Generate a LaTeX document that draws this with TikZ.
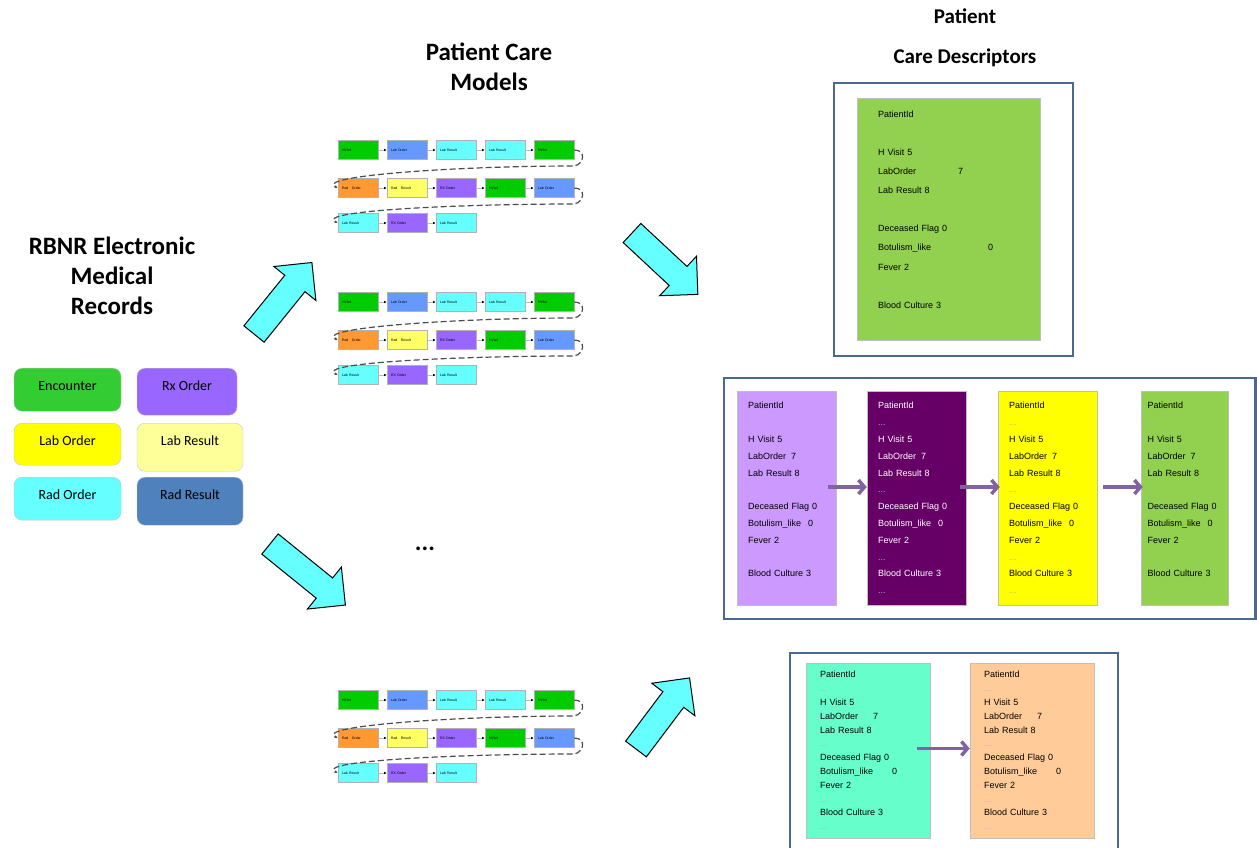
\documentclass[tikz,border=0pt]{standalone}
\usepackage{fontspec}
\setmainfont{Carlito}
\newfontfamily\arialf{Liberation Sans}
\usetikzlibrary{arrows.meta,positioning,calc}

\definecolor{encgreen}{HTML}{33CC33}
\definecolor{rxpurple}{HTML}{9966FF}
\definecolor{laborder}{HTML}{FFFF00}
\definecolor{labresult}{HTML}{FFFF99}
\definecolor{radorder}{HTML}{66FFFF}
\definecolor{radresult}{HTML}{4F81BD}
\definecolor{mgreen}{HTML}{00CC00}
\definecolor{mblue}{HTML}{6699FF}
\definecolor{mcyan}{HTML}{66FFFF}
\definecolor{morange}{HTML}{FF9933}
\definecolor{myellow}{HTML}{FFFF66}
\definecolor{mpurple}{HTML}{9966FF}
\definecolor{dgreen}{HTML}{92D050}
\definecolor{dlav}{HTML}{CC99FF}
\definecolor{dplum}{HTML}{660066}
\definecolor{dyellow}{HTML}{FFFF00}
\definecolor{dteal}{HTML}{66FFCC}
\definecolor{dpeach}{HTML}{FFCC99}
\definecolor{framecol}{HTML}{4B6892}
\definecolor{flowcol}{HTML}{8064A2}
\definecolor{arrowcyan}{HTML}{66FFFF}

\tikzset{
  title/.style={font=\bfseries\fontsize{25}{30}\selectfont, align=center},
  legend/.style={rounded corners=8pt, draw=gray!45, anchor=north,
    font=\fontsize{14}{16}\selectfont, text height=17pt, inner ysep=5pt},
  mbox/.style={draw=gray!60, line width=0.6pt, minimum height=19pt,
    text width=32pt, inner xsep=4pt, inner ysep=0pt, align=left,
    font=\arialf\fontsize{3.5}{4}\selectfont},
  mlink/.style={draw=gray!55, line width=0.6pt, -{Latex[length=2.5pt,width=2.5pt,color=black]}},
  mwrap/.style={draw=black!70, line width=1.2pt, dash pattern=on 6pt off 3pt,
    -{Latex[length=3pt,width=3pt]}},
  bigarrow/.style={fill=arrowcyan, draw=black, line width=1pt, line join=miter},
  desc/.style={draw=gray!50, line width=0.5pt, align=left, inner ysep=0pt,
    font=\arialf\fontsize{9}{#1}\selectfont},
  frame/.style={draw=framecol, line width=2.5pt},
  flow/.style={draw=flowcol, line width=3.5pt, -{Straight Barb[length=6pt,width=14pt]}}
}

\newcommand{\gapDots}{{\color{gray!60}\fontsize{9}{9}\selectfont...}}
\newcommand{\careLines}[2]{PatientId\\\gapDots\\H~Visit~5\\LabOrder\hspace{#1}7\\Lab~Result~8\\\gapDots\\Deceased~Flag~0\\Botulism\_like\hspace{#2}0\\Fever~2\\\gapDots\\Blood~Culture~3\\\gapDots}

% one patient care model: three rows of events
\newcommand{\careModel}[2]{%
  \begin{scope}[shift={(0,#2)}]
    \foreach \cc/\clr/\lbl in {1/mgreen/HVisit,2/mblue/Lab Order,3/mcyan/Lab Result,4/mcyan/Lab Result,5/mgreen/HVisit}
      \node[mbox, fill=\clr] (#1-1-\cc) at ({358+49*(\cc-1)},150) {\lbl};
    \foreach \cc/\clr/\lbl in {1/morange/Rad\quad Order,2/myellow/Rad\quad Result,3/mpurple/RX Order,4/mgreen/HVisit,5/mblue/Lab Order}
      \node[mbox, fill=\clr] (#1-2-\cc) at ({358+49*(\cc-1)},188) {\lbl};
    \foreach \cc/\clr/\lbl in {1/mcyan/Lab Result,2/mpurple/RX Order,3/mcyan/Lab Result}
      \node[mbox, fill=\clr] (#1-3-\cc) at ({358+49*(\cc-1)},223) {\lbl};
    \foreach \pp/\qq in {1/2,2/3,3/4,4/5} {
      \draw[mlink] (#1-1-\pp) -- (#1-1-\qq);
      \draw[mlink] (#1-2-\pp) -- (#1-2-\qq);
    }
    \foreach \pp/\qq in {1/2,2/3}
      \draw[mlink] (#1-3-\pp) -- (#1-3-\qq);
    \draw[mwrap] (#1-1-5.east) .. controls +(12,0) and +(10,-2) .. ++(0,16)
      .. controls +(-120,0) and +(-22,-12) .. (#1-2-1.west);
    \draw[mwrap] (#1-2-5.east) .. controls +(12,0) and +(10,-2) .. ++(0,16)
      .. controls +(-120,0) and +(-22,-12) .. (#1-3-1.west);
  \end{scope}}

% block arrow: tail x, tail y, angle, length
\newcommand{\bigArrow}[4]{%
  \begin{scope}[shift={(#1,#2)}, rotate=#3]
    \draw[bigarrow] (0,-13) -- ({#4-27},-13) -- ({#4-27},-27) -- (#4,0)
      -- ({#4-27},27) -- ({#4-27},13) -- (0,13) -- cycle;
  \end{scope}}

\begin{document}
\begin{tikzpicture}[x=1pt,y=-1pt]
\useasboundingbox (0,0) rectangle (1257,847);
\clip (0,0) rectangle (1257,847);

% titles
\node[title] (emr) at (112,276) {RBNR Electronic\\Medical\\Records};
\node[title] (pcm) at (489,67) {Patient Care\\Models};
\node[title, font=\bfseries\fontsize{21}{40}\selectfont] (pcd) at (965,38) {Patient\\Care Descriptors};

% record types
\node[legend, fill=encgreen, minimum width=107pt, text depth=16pt] (enc) at (67.5,368) {Encounter};
\node[legend, fill=rxpurple, minimum width=100pt, text depth=20pt] (rx) at (187,368) {Rx Order};
\node[legend, fill=laborder, minimum width=107pt, text depth=15pt] (lo) at (67.5,423) {Lab Order};
\node[legend, fill=labresult, minimum width=106pt, text depth=21pt] (lr) at (190,423) {Lab Result};
\node[legend, fill=radorder, minimum width=107pt, text depth=16pt] (ro) at (67.5,477) {Rad Order};
\node[legend, fill=radresult, minimum width=106pt, text depth=21pt] (rr) at (190,477) {Rad Result};

% patient care models
\careModel{pcmA}{0}
\careModel{pcmB}{152}
\careModel{pcmC}{550}
\node[title] (more) at (425,549) {...};

\bigArrow{254}{334}{51}{92}
\bigArrow{270}{544}{-39}{97}
\bigArrow{632}{233}{-43}{90}
\bigArrow{636}{749}{53}{89}

% descriptors
\draw[frame] (834,83) rectangle (1073,356);
\node[desc=19.1, fill=dgreen, minimum width=183pt, minimum height=242pt, text width=141pt, inner xsep=21pt] (d0) at (948.5,219) {\careLines{42pt}{57pt}};

\draw[frame] (724,378) rectangle (1255.5,619);
\node[desc=16.8, fill=dlav, minimum height=214pt, text width=77pt, inner xsep=11pt] (d1) at (786.5,498) {\careLines{5pt}{7pt}};
\node[desc=16.8, fill=dplum, text=white, minimum height=214pt, text width=77pt, inner xsep=11pt] (d2) at (916.5,498) {\careLines{5pt}{7pt}};
\node[desc=16.8, fill=dyellow, minimum height=214pt, text width=77pt, inner xsep=11pt] (d3) at (1047.5,498) {\careLines{5pt}{7pt}};
\node[desc=16.8, fill=dgreen, minimum height=214pt, text width=74pt, inner xsep=6.5pt] (d4) at (1184.5,498) {\careLines{5pt}{7pt}};
\draw[flow] ([xshift=-8pt,yshift=11pt]d1.east) -- ([yshift=11pt]d2.west);
\draw[flow] ([xshift=-6pt,yshift=11pt]d2.east) -- ([xshift=2pt,yshift=11pt]d3.west);
\draw[flow] ([xshift=6pt,yshift=11pt]d3.east) -- ([xshift=2pt,yshift=11pt]d4.west);

\draw[frame] (790,653) rectangle (1118,870);
\node[desc=13.8, fill=dteal, minimum height=175pt, text width=96pt, inner xsep=14pt] (e1) at (868,750.5) {\careLines{15pt}{19pt}};
\node[desc=13.8, fill=dpeach, minimum height=175pt, text width=96pt, inner xsep=14pt] (e2) at (1032,750.5) {\careLines{15pt}{19pt}};
\draw[flow] ([xshift=-13pt,yshift=2pt]e1.east) -- ([yshift=2pt]e2.west);
\end{tikzpicture}
\end{document}
